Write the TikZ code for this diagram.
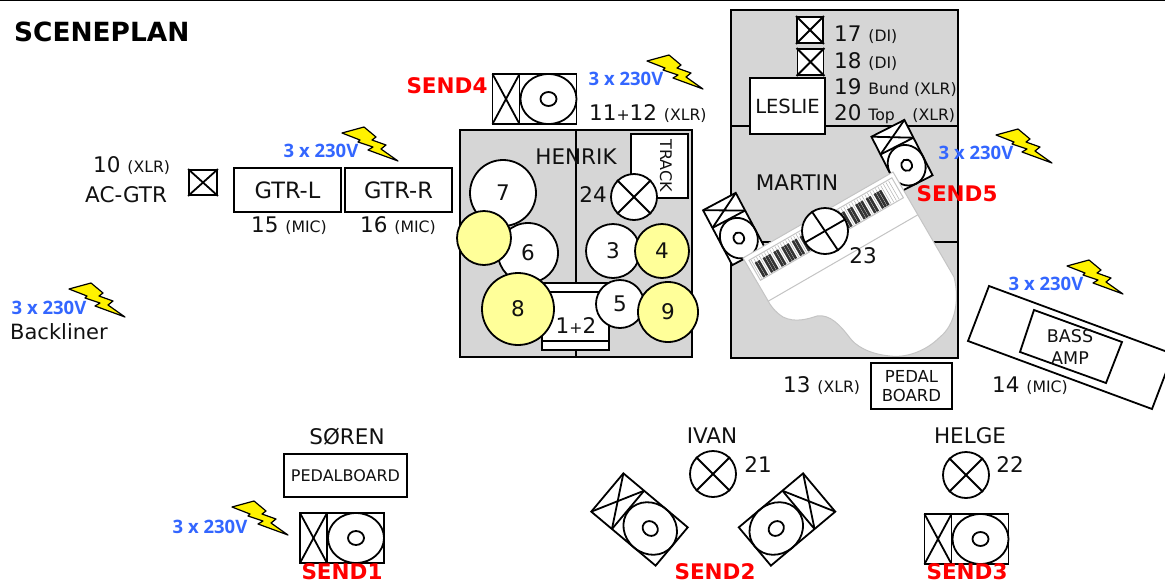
\documentclass[tikz,border=0pt]{standalone}
\usepackage{fontspec}
\setmainfont{DejaVu Sans}
\newfontfamily\powerfont{Open Sans}
\usepackage{xcolor}
\definecolor{stagegray}{HTML}{D6D6D6}
\definecolor{drumyellow}{HTML}{FFFF99}
\definecolor{powerblue}{HTML}{3366FF}
\definecolor{inkcol}{HTML}{111111}
\definecolor{pianoline}{HTML}{C4C4C4}
\newcommand{\smalltxt}[1]{{\fontsize{15.7}{18}\selectfont #1}}
\tikzset{
	fig/.style={draw=black,line width=1.8pt},
	txt/.style={inner sep=0pt,text=inkcol,font=\fontsize{21.5}{25}\selectfont},
	lbl/.style={txt,anchor=base west},
	box/.style={fig,fill=white,inner sep=0pt,align=center,text=inkcol},
	drum/.style={fig,circle,fill=white,inner sep=0pt,text=inkcol,font=\fontsize{21.5}{25}\selectfont},
	yellowdrum/.style={drum,fill=drumyellow},
	mic/.style={fig,circle,fill=white,inner sep=0pt,minimum size=46pt},
	dibox/.style={fig,fill=white,inner sep=0pt,minimum width=26pt,minimum height=26pt},
	send/.style={inner sep=0pt,text=red,font=\bfseries\fontsize{21.5}{25}\selectfont},
	power/.style={inner sep=0pt,text=powerblue,font=\powerfont\bfseries\fontsize{18.5}{22}\selectfont},
	wedge/.pic={
		\draw[fig,fill=white] (-42,-25) rectangle (42,25);
		\draw[fig] (-15,-25) -- (-15,25);
		\draw[fig] (-42,-25) -- (-15,25);
		\draw[fig] (-42,25) -- (-15,-25);
		\draw[fig] (14,0) ellipse [x radius=28,y radius=25];
		\draw[fig] (14,0) ellipse [x radius=8,y radius=7];
	},
	bolt/.pic={
		\draw[fill=yellow,line width=1.2pt,line join=round] (0,0) -- (22,-6) -- (34,4) -- (30,7) -- (44,12) -- (39,16) -- (56,28) -- (26,17) -- (31,14) -- (16,9) -- (18,7) -- cycle;
	}
}

\begin{document}
\begin{tikzpicture}[x=1pt,y=-1pt]
	\useasboundingbox (0,0) rectangle (1165,584);
	\draw[line width=1pt] (0,0) -- (1165,0);
	\node [anchor=base west,inner sep=0pt,font=\bfseries\fontsize{26.4}{30}\selectfont] (title) at (14,41) {SCENEPLAN};
	%stage henrik
	\draw[fig,fill=stagegray] (460,130) rectangle (692,357);
	\draw[fig] (576,130) -- (576,357);
	\node [txt] (henrik) at (576,157) {HENRIK};
	\node [box,minimum width=57pt,minimum height=64pt] (track) at (659.5,166) {};
	\node [txt,rotate=-90,font=\fontsize{16}{18}\selectfont] (tracktxt) at (666,166) {TRACK};
	\node [txt] (n24) at (593,195) {24};
	\node [mic] (mic24) at (634,197) {};
	\draw[fig] (mic24.45) -- (mic24.225);
	\draw[fig] (mic24.135) -- (mic24.-45);
	%drums
	\node [box,minimum width=67pt,minimum height=67pt] (kick) at (575.5,316.5) {};
	\draw[fig] (kick.west |- 0,292) -- (kick.east |- 0,292);
	\draw[fig] (kick.west |- 0,341) -- (kick.east |- 0,341);
	\node [txt] (kicktxt) at (576,326) {1\smalltxt{+}2};
	\node [drum,minimum size=66pt] (d7) at (503,193) {7};
	\node [drum,minimum size=60pt] (d6) at (528,253) {6};
	\node [yellowdrum,minimum size=54pt] (dy) at (484,238) {};
	\node [yellowdrum,minimum size=72pt] (d8) at (518,309) {8};
	\node [drum,minimum size=54pt] (d3) at (613,251) {3};
	\node [yellowdrum,minimum size=54pt] (d4) at (662,251) {4};
	\node [drum,minimum size=48pt] (d5) at (620,304) {5};
	\node [yellowdrum,minimum size=60pt] (d9) at (668,312) {9};
	%stage martin
	\draw[fig,fill=stagegray] (731,10) rectangle (958,358);
	\draw[fig] (731,126) -- (958,126);
	\draw[fig] (731,242) -- (958,242);
	\node [dibox] (di17) at (810,30) {};
	\draw[fig] (di17.north west) -- (di17.south east);
	\draw[fig] (di17.south west) -- (di17.north east);
	\node [dibox] (di18) at (810.5,62) {};
	\draw[fig] (di18.north west) -- (di18.south east);
	\draw[fig] (di18.south west) -- (di18.north east);
	\node [lbl] (n17) at (834,41) {17 \smalltxt{(DI)}};
	\node [lbl] (n18) at (834,68) {18 \smalltxt{(DI)}};
	\node [lbl] (n19) at (834,94) {19 \smalltxt{Bund (XLR)}};
	\node [lbl] (n20) at (834,120) {20 \smalltxt{\makebox[44pt][l]{Top}(XLR)}};
	\node [box,minimum width=75pt,minimum height=56pt,font=\fontsize{19.5}{22}\selectfont] (leslie) at (787.5,106) {LESLIE};
	\node [txt] (martin) at (797,183) {MARTIN};
	\pic (wedgefive) [rotate=-63,scale=0.74] at (902,156) {wedge};
	\pic (wedgesix) [rotate=-62,scale=0.74] at (734,229) {wedge};
	%piano
	\draw[draw=pianoline,line width=1pt,fill=white] (743,258) -- (893,172) -- (954,277) .. controls (960,300) and (955,325) .. (940,337) .. controls (925,352) and (905,358) .. (890,356) .. controls (868,354) and (855,345) .. (850,338) .. controls (840,325) and (830,314) .. (817,316) .. controls (808,319) and (795,323) .. (783,317) .. controls (775,312) and (770,305) .. (767,299) -- cycle;
	\begin{scope}[shift={(743,258)},rotate=30]
		\draw[draw=pianoline,line width=1pt] (4,5) rectangle (169,28);
		\draw[draw=pianoline,line width=1pt] (0,50) -- (173,50);
		\foreach \k in {0,...,52} \draw[draw=gray!60,line width=0.5pt] ({6+3.05*\k},6) -- ({6+3.05*\k},27);
		\foreach \o in {0,...,6} \foreach \k in {1,2,4,5,6} \fill[black!80] ({6+3.05*(7*\o+\k)-1.3},10) rectangle ++(2.6,17);
	\end{scope}
	\node [mic] (mic23) at (825,231) {};
	\draw[fig] (mic23.30) -- (mic23.210);
	\draw[fig] (mic23.124) -- (mic23.304);
	\node [txt] (n23) at (863,256) {23};
	%guitars
	\node [lbl] (n10) at (93,172) {10 \smalltxt{(XLR)}};
	\node [lbl] (acgtr) at (85,202) {AC-GTR};
	\node [dibox,minimum width=28pt,minimum height=25pt] (di10) at (203,182.5) {};
	\draw[fig] (di10.north west) -- (di10.south east);
	\draw[fig] (di10.south west) -- (di10.north east);
	\node [box,minimum width=107pt,minimum height=44pt,font=\fontsize{22.5}{26}\selectfont] (gtrl) at (287.5,190) {GTR-L};
	\node [box,minimum width=107pt,minimum height=44pt,font=\fontsize{22.5}{26}\selectfont] (gtrr) at (398.5,190) {GTR-R};
	\node [lbl] (n15) at (251,232) {15 \smalltxt{(MIC)}};
	\node [lbl] (n16) at (360,232) {16 \smalltxt{(MIC)}};
	\node [lbl] (n11) at (589,120) {11\smalltxt{+}12 \smalltxt{(XLR)}};
	\node [lbl,font=\fontsize{21}{25}\selectfont] (backliner) at (10,339) {Backliner};
	%bass and pedals
	\node [lbl] (n13) at (783,392) {13 \smalltxt{(XLR)}};
	\node [box,minimum width=81pt,minimum height=46pt,font=\fontsize{16.5}{19}\selectfont] (pedal) at (911.5,386) {PEDAL\\BOARD};
	\draw[fig] (968,341) -- (989,286) -- (1173,354) -- (1152,409) -- cycle;
	\draw[fig] (1034,310) -- (1122,342) -- (1106,383) -- (1020,352) -- cycle;
	\node [txt,align=center,font=\fontsize{17.5}{21}\selectfont] (bass) at (1070,347) {BASS\\AMP};
	\node [lbl] (n14) at (992,392) {14 \smalltxt{(MIC)}};
	%front line
	\node [txt] (soren) at (347,437) {SØREN};
	\node [box,minimum width=123pt,minimum height=43pt,font=\fontsize{16}{18}\selectfont] (soeboard) at (345.5,475.5) {PEDALBOARD};
	\pic (wedgeone) at (342,538) {wedge};
	\node [txt] (ivan) at (712,436) {IVAN};
	\node [mic] (mic21) at (713,474) {};
	\draw[fig] (mic21.45) -- (mic21.225);
	\draw[fig] (mic21.135) -- (mic21.-45);
	\node [txt] (n21) at (758,465) {21};
	\pic (wedgetwo) [rotate=-40] at (639.5,519.5) {wedge};
	\pic (wedgethree) [rotate=-140] at (787,519.5) {wedge};
	\node [txt] (helge) at (970,436) {HELGE};
	\node [mic] (mic22) at (966,475) {};
	\draw[fig] (mic22.45) -- (mic22.225);
	\draw[fig] (mic22.135) -- (mic22.-45);
	\node [txt] (n22) at (1010,465) {22};
	\pic (wedgefour) at (966.5,539) {wedge};
	\pic (wedgeseven) at (534.5,99) {wedge};
	%power
	\pic (boltone) at (69,289) {bolt};
	\pic (bolttwo) at (342,133) {bolt};
	\pic (boltthree) at (647,61) {bolt};
	\pic (boltfour) at (996,135) {bolt};
	\pic (boltfive) at (1067,266) {bolt};
	\pic (boltsix) at (232,507) {bolt};
	\node [power] (powone) at (49,308) {3 x 230V};
	\node [power] (powtwo) at (321,151) {3 x 230V};
	\node [power] (powthree) at (626,79) {3 x 230V};
	\node [power] (powfour) at (976,153) {3 x 230V};
	\node [power] (powfive) at (1046,284) {3 x 230V};
	\node [power] (powsix) at (210,527) {3 x 230V};
	%sends
	\node [send] (send1) at (342,572) {SEND1};
	\node [send] (send2) at (715,572) {SEND2};
	\node [send] (send3) at (967,572) {SEND3};
	\node [send] (send4) at (447,86) {SEND4};
	\node [send] (send5) at (957,194) {SEND5};
\end{tikzpicture}
\end{document}
